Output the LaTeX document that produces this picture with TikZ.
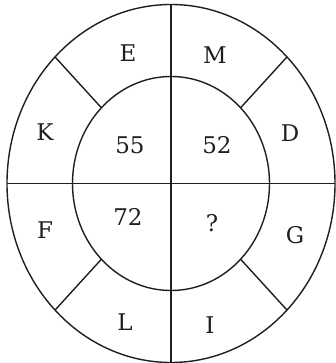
\documentclass[tikz,border=0pt]{standalone}
\usepackage{fontspec}
\setmainfont{DejaVu Serif}
\usepackage{tikz}
\begin{document}
\begin{tikzpicture}[x=1pt,y=-1pt,
  ring/.style={line width=1.4pt,draw=black!88},
  lbl/.style={font=\fontsize{23}{27}\selectfont,text=black!88,inner sep=0pt}]
\useasboundingbox (0,0) rectangle (335,363);
\fill[white] (0,0) rectangle (335,363);
\coordinate (O) at (171,183.5);
% ellipses
\draw[ring] (O) ellipse [x radius=164, y radius=179];
\draw[ring] (O) ellipse [x radius=98.5, y radius=107];
% axis end points
\coordinate (top) at (171,4.5);
\coordinate (bot) at (171,362.5);
\coordinate (lft) at (7,183.5);
\coordinate (rgt) at (335,183.5);
\draw[ring] (top) -- (bot);
\draw[ring] (lft) -- (rgt);
% diagonal spokes
\coordinate (ulo) at (55,56.9);  \coordinate (uli) at (101.4,107.8);
\coordinate (uro) at (287,56.9); \coordinate (uri) at (240.6,107.8);
\coordinate (llo) at (55,310.1); \coordinate (lli) at (101.4,259.2);
\coordinate (lro) at (287,310.1);\coordinate (lri) at (240.6,259.2);
\draw[ring] (ulo) -- (uli);
\draw[ring] (uro) -- (uri);
\draw[ring] (llo) -- (lli);
\draw[ring] (lro) -- (lri);
% labels
\node[lbl] (E) at (128,53) {E};
\node[lbl] (M) at (215,55) {M};
\node[lbl] (K) at (45,132) {K};
\node[lbl] (D) at (290,133) {D};
\node[lbl] (n55) at (130,145) {55};
\node[lbl] (n52) at (217,145) {52};
\node[lbl] (F) at (45,230) {F};
\node[lbl] (n72) at (128,217) {72};
\node[lbl] (q) at (212,223) {?};
\node[lbl] (G) at (295,235) {G};
\node[lbl] (L) at (125,322) {L};
\node[lbl] (I) at (210,325) {I};
\end{tikzpicture}
\end{document}
